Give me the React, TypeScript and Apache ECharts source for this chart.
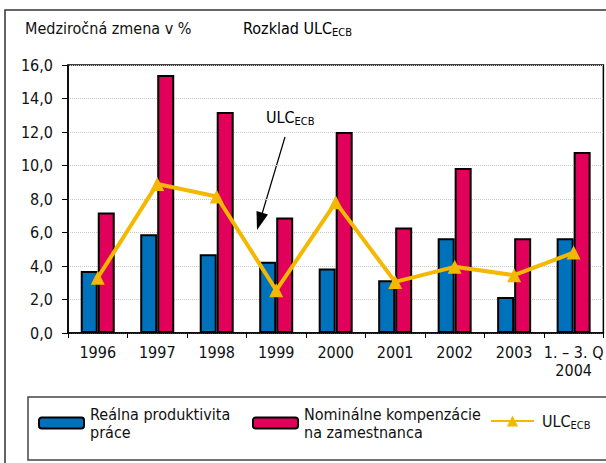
import React, { useEffect, useRef } from "react";
import * as echarts from "echarts";

const categories = ["1996", "1997", "1998", "1999", "2000", "2001", "2002", "2003", "1. – 3. Q\n2004"];
const productivity = [3.7, 5.9, 4.7, 4.25, 3.85, 3.15, 5.65, 2.15, 5.65];
const compensation = [7.2, 15.4, 13.2, 6.9, 12.0, 6.3, 9.85, 5.65, 10.8];
const ulc = [3.3, 8.9, 8.15, 2.55, 7.8, 3.05, 3.95, 3.45, 4.8];
const yTicks = { min: 0, max: 16, interval: 2 };

const FONT = "'Liberation Sans Narrow', 'Arial Narrow', 'DejaVu Sans Condensed', sans-serif";
const BLUE = "#0072BB";
const RED = "#E1005A";
const YELLOW = "#F5B800";

export default function App() {
  const ref = useRef<HTMLDivElement>(null);
  useEffect(() => {
    document.body.style.margin = "0";
    const chart = echarts.init(ref.current!, null, { renderer: "svg" });
    const sub = {
      a: { fontSize: 16, fontFamily: FONT, color: "#111", lineHeight: 20, verticalAlign: "middle" },
      b: { fontSize: 11, fontFamily: FONT, color: "#111", lineHeight: 10, verticalAlign: "bottom" },
    };
    const legendBase = {
      top: 400,
      itemWidth: 45,
      itemHeight: 11,
      orient: "horizontal",
      textStyle: { fontFamily: FONT, fontSize: 16, color: "#111", lineHeight: 18, padding: [0, 0, 0, 1], rich: sub },
    };
    chart.setOption({
      animation: false,
      textStyle: { fontFamily: FONT },
      grid: { left: 68, top: 65, width: 544, height: 268, show: true, borderColor: "#000", borderWidth: 1.5 },
      xAxis: {
        type: "category",
        data: categories,
        axisLine: { lineStyle: { color: "#000", width: 1.5 } },
        axisTick: { show: true, length: 5, lineStyle: { color: "#000", width: 1 } },
        axisLabel: { fontFamily: FONT, fontSize: 16, color: "#111", margin: 10, lineHeight: 18, interval: 0 },
      },
      yAxis: {
        type: "value",
        min: yTicks.min,
        max: yTicks.max,
        interval: yTicks.interval,
        axisLine: { show: true, lineStyle: { color: "#000", width: 1.5 } },
        axisTick: { show: true, inside: false, length: 6, lineStyle: { color: "#000" } },
        axisLabel: {
          fontFamily: FONT,
          fontSize: 16,
          color: "#111",
          margin: 15,
          formatter: (v: number) => v.toFixed(1).replace(".", ","),
        },
        splitLine: { show: true, lineStyle: { color: "#c8c8c8", type: "dotted", width: 1 } },
      },
      legend: [
        { ...legendBase, left: 33, data: ["Reálna produktivita\npráce"] },
        { ...legendBase, left: 247, data: ["Nominálne kompenzácie\nna zamestnanca"] },
        {
          ...legendBase,
          left: 485,
          top: 406,
          itemWidth: 43,
          itemHeight: 14,
          data: ["ULC"],
          formatter: () => "{a|ULC}{b|ECB}",
          textStyle: { ...legendBase.textStyle, padding: [0, 0, 0, 3] },
        },
      ],
      series: [
        {
          name: "Reálna produktivita\npráce",
          type: "bar",
          data: productivity,
          barWidth: 17,
          barGap: "0%",
          itemStyle: { color: BLUE, borderColor: "#000", borderWidth: 2 },
        },
        {
          name: "Nominálne kompenzácie\nna zamestnanca",
          type: "bar",
          data: compensation,
          barWidth: 17,
          barGap: "0%",
          itemStyle: { color: RED, borderColor: "#000", borderWidth: 2 },
        },
        {
          name: "ULC",
          type: "line",
          data: ulc,
          symbol: "triangle",
          symbolSize: 14,
          lineStyle: { color: YELLOW, width: 4 },
          itemStyle: { color: YELLOW },
          z: 5,
        },
      ],
      graphic: [
        {
          type: "rect",
          shape: { x: 5, y: 10, width: 700, height: 500 },
          style: { fill: "none", stroke: "#333", lineWidth: 1.5 },
          silent: true,
        },
        {
          type: "rect",
          shape: { x: 28, y: 397, width: 700, height: 63 },
          style: { fill: "none", stroke: "#444", lineWidth: 1.5 },
          silent: true,
        },
        {
          type: "text",
          x: 25,
          y: 28,
          style: { text: "Medziročná zmena v %", font: `16px ${FONT}`, fill: "#111", verticalAlign: "middle" },
        },
        {
          type: "text",
          x: 243,
          y: 28,
          style: { text: "{a|Rozklad ULC}{b|ECB}", rich: sub, verticalAlign: "middle" },
        },
        {
          type: "text",
          x: 266,
          y: 117,
          style: { text: "{a|ULC}{b|ECB}", rich: sub, verticalAlign: "middle" },
        },
        {
          type: "line",
          shape: { x1: 285, y1: 137, x2: 262, y2: 214 },
          style: { stroke: "#000", lineWidth: 1.2 },
        },
        {
          type: "polygon",
          shape: { points: [[257, 230], [268, 214.5], [256.5, 211]] },
          style: { fill: "#000" },
        },
      ],
    });
    return () => chart.dispose();
  }, []);
  return <div ref={ref} style={{ width: 606, height: 463 }} />;
}
